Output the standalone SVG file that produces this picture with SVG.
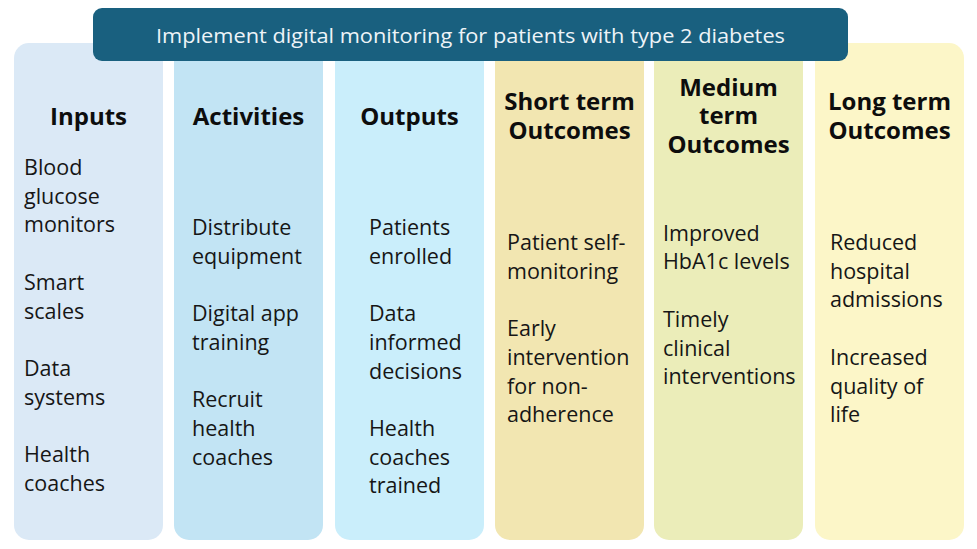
<svg xmlns="http://www.w3.org/2000/svg" width="977" height="549" viewBox="0 0 977 549">
<style>
.col{stroke:none}
.h{font-family:"Open Sans","Noto Sans",sans-serif;font-weight:700;font-size:24px;fill:#0d0d0d;text-anchor:middle}
.b{font-family:"Open Sans","Noto Sans",sans-serif;font-size:21.5px;fill:#161616}
.t{font-family:"Open Sans","Noto Sans",sans-serif;font-size:20.5px;fill:#EEF4F8;text-anchor:middle}
</style>
<rect width="977" height="549" fill="#ffffff"/>
<g id="inputs">
<rect class="col" x="14" y="43" width="149" height="497" rx="15" fill="#DBE9F6"/>
<text class="h" x="88.5" y="124.5">Inputs</text>
<text class="b" x="24"><tspan x="24" y="175">Blood</tspan><tspan x="24" y="203.7">glucose</tspan><tspan x="24" y="232.4">monitors</tspan><tspan x="24" y="289.8">Smart</tspan><tspan x="24" y="318.5">scales</tspan><tspan x="24" y="376">Data</tspan><tspan x="24" y="404.6">systems</tspan><tspan x="24" y="462">Health</tspan><tspan x="24" y="490.7">coaches</tspan></text>
</g>
<g id="activities">
<rect class="col" x="174" y="43" width="149" height="497" rx="15" fill="#C2E4F4"/>
<text class="h" x="248.5" y="124.5">Activities</text>
<text class="b"><tspan x="192" y="235">Distribute</tspan><tspan x="192" y="263.7">equipment</tspan><tspan x="192" y="321.1">Digital app</tspan><tspan x="192" y="349.8">training</tspan><tspan x="192" y="407.2">Recruit</tspan><tspan x="192" y="435.9">health</tspan><tspan x="192" y="464.6">coaches</tspan></text>
</g>
<g id="outputs">
<rect class="col" x="335" y="43" width="149" height="497" rx="15" fill="#CAEEFB"/>
<text class="h" x="409.5" y="124.5">Outputs</text>
<text class="b"><tspan x="369" y="235">Patients</tspan><tspan x="369" y="263.7">enrolled</tspan><tspan x="369" y="321.1">Data</tspan><tspan x="369" y="349.8">informed</tspan><tspan x="369" y="378.5">decisions</tspan><tspan x="369" y="435.9">Health</tspan><tspan x="369" y="464.6">coaches</tspan><tspan x="369" y="493.3">trained</tspan></text>
</g>
<g id="short-term">
<rect class="col" x="495" y="43" width="149" height="497" rx="15" fill="#F2E6B1"/>
<text class="h"><tspan x="569.5" y="110">Short term</tspan><tspan x="569.5" y="139">Outcomes</tspan></text>
<text class="b"><tspan x="507" y="250">Patient self-</tspan><tspan x="507" y="278.7">monitoring</tspan><tspan x="507" y="336.1">Early</tspan><tspan x="507" y="364.8">intervention</tspan><tspan x="507" y="393.5">for non-</tspan><tspan x="507" y="422.2">adherence</tspan></text>
</g>
<g id="medium-term">
<rect class="col" x="654" y="43" width="149" height="497" rx="15" fill="#EBEDB9"/>
<text class="h"><tspan x="728.5" y="95.5">Medium</tspan><tspan x="728.5" y="124.2">term</tspan><tspan x="728.5" y="152.9">Outcomes</tspan></text>
<text class="b"><tspan x="663" y="240.7">Improved</tspan><tspan x="663" y="269.4">HbA1c levels</tspan><tspan x="663" y="326.8">Timely</tspan><tspan x="663" y="355.5">clinical</tspan><tspan x="663" y="384.2">interventions</tspan></text>
</g>
<g id="long-term">
<rect class="col" x="815" y="43" width="149" height="497" rx="15" fill="#FCF6C8"/>
<text class="h"><tspan x="889.5" y="110">Long term</tspan><tspan x="889.5" y="139">Outcomes</tspan></text>
<text class="b"><tspan x="830" y="250">Reduced</tspan><tspan x="830" y="278.7">hospital</tspan><tspan x="830" y="307.4">admissions</tspan><tspan x="830" y="364.8">Increased</tspan><tspan x="830" y="393.5">quality of</tspan><tspan x="830" y="422.2">life</tspan></text>
</g>
<g id="title">
<rect x="93" y="8" width="755" height="53" rx="9" fill="#19607F"/>
<text class="t" x="470.5" y="42.5" textLength="629" lengthAdjust="spacingAndGlyphs">Implement digital monitoring for patients with type 2 diabetes</text>
</g>
<g id="connectors"></g>
</svg>
